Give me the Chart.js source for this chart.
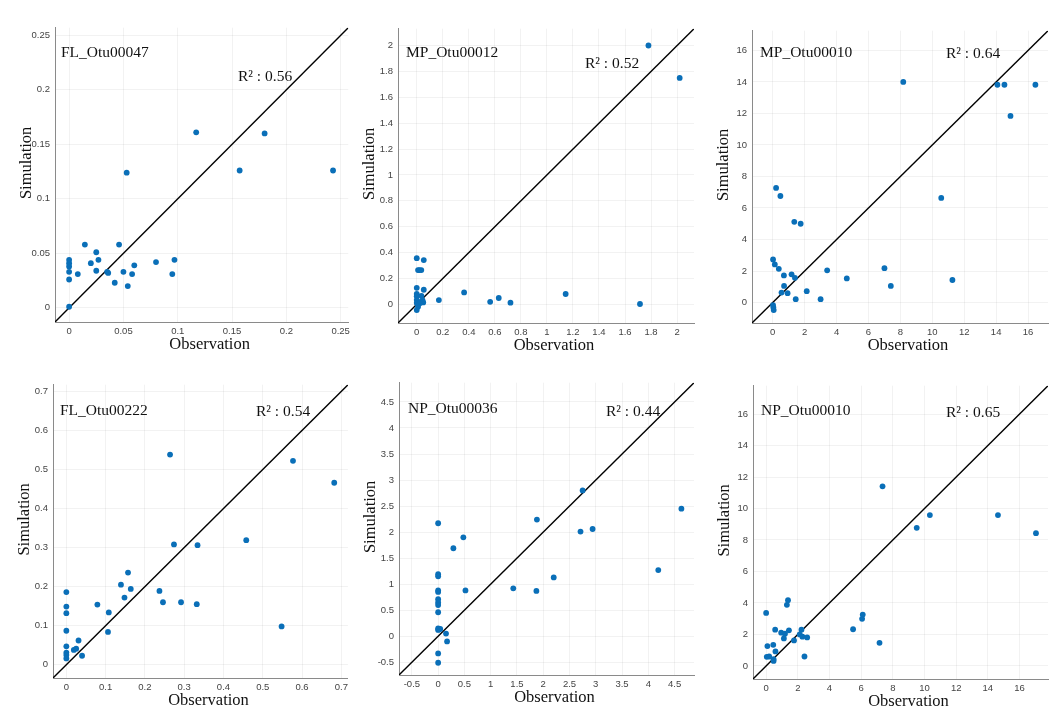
<!DOCTYPE html>
<html>
<head>
<meta charset="utf-8">
<script src="https://cdn.jsdelivr.net/npm/chart.js@4.4.1/dist/chart.umd.min.js"></script>
<style>
  html, body { margin: 0; padding: 0; background: #ffffff; }
  body { width: 1053px; height: 720px; position: relative; overflow: hidden; }
  canvas { position: absolute; }
</style>
</head>
<body>
<canvas id="c1"></canvas>
<canvas id="c2"></canvas>
<canvas id="c3"></canvas>
<canvas id="c4"></canvas>
<canvas id="c5"></canvas>
<canvas id="c6"></canvas>
<script>
// ---------- DATA ----------
const p1Name = "FL_Otu00047", p1R2 = "0.56";
const p1Obs = [0,0,0,0,0,0,0.008,0.0145,0.020,0.025,0.025,0.027,0.035,0.036,0.042,0.046,0.050,0.053,0.054,0.058,0.060,0.080,0.095,0.097,0.117,0.157,0.180,0.243];
const p1Sim = [0.001,0.026,0.033,0.038,0.041,0.044,0.031,0.058,0.041,0.051,0.034,0.044,0.033,0.032,0.023,0.058,0.033,0.124,0.020,0.031,0.039,0.042,0.031,0.044,0.161,0.126,0.160,0.126];
const p1Range = [-0.013, 0.257];
const p1Ticks = [0, 0.05, 0.1, 0.15, 0.2, 0.25];

const p2Name = "MP_Otu00012", p2R2 = "0.52";
const p2Obs = [1.78,2.02,0,0.054,0.01,0.02,0.035,0,0.054,0,0,0,0.036,0.044,0.023,0.01,0,0,0.03,0.05,0.17,0.364,0.564,0.63,0.72,1.144,1.715];
const p2Sim = [2.0,1.75,0.357,0.342,0.265,0.265,0.265,0.128,0.113,0.08,0.062,0.033,0.066,0.033,0.008,-0.018,-0.044,0.01,0.02,0.015,0.033,0.092,0.02,0.049,0.013,0.08,0.003];
const p2Range = [-0.144, 2.13];
const p2Ticks = [0, 0.2, 0.4, 0.6, 0.8, 1, 1.2, 1.4, 1.6, 1.8, 2];

const p3Name = "MP_Otu00010", p3R2 = "0.64";
const p3Obs = [8.18,14.08,14.52,16.46,14.9,10.56,0.21,0.48,1.35,1.75,0.02,0.13,0.38,0.70,1.18,1.39,0.71,0.55,0.93,1.44,2.13,3.0,3.41,4.64,7.0,7.4,11.26,0.02,0.04,0.06];
const p3Sim = [14.0,13.82,13.82,13.82,11.84,6.64,7.27,6.76,5.12,5.0,2.73,2.42,2.14,1.72,1.79,1.57,1.05,0.63,0.59,0.21,0.72,0.21,2.04,1.53,2.18,1.05,1.43,-0.16,-0.31,-0.48];
const p3Range = [-1.3, 17.25];
const p3Ticks = [0, 2, 4, 6, 8, 10, 12, 14, 16];

const p4Name = "FL_Otu00222", p4R2 = "0.54";
const p4Obs = [0.264,0.577,0.682,0.458,0.274,0.334,0.157,0.139,0.164,0.148,0.237,0.246,0.292,0.332,0.079,0.108,0.106,0.548,0,0,0,0,0,0,0,0,0.031,0.019,0.025,0.040];
const p4Sim = [0.538,0.522,0.466,0.319,0.308,0.306,0.236,0.205,0.194,0.172,0.189,0.160,0.160,0.155,0.154,0.134,0.084,0.098,0.186,0.149,0.132,0.087,0.047,0.031,0.025,0.016,0.062,0.038,0.041,0.023];
const p4Range = [-0.034, 0.717];
const p4Ticks = [0, 0.1, 0.2, 0.3, 0.4, 0.5, 0.6, 0.7];

const p5Name = "NP_Otu00036", p5R2 = "0.44";
const p5Obs = [2.75,4.63,1.88,2.71,2.94,0,0.48,0.29,4.19,2.2,1.43,1.87,0.52,0,0,0,0,0,0,0,0,0,0,0.04,0.01,0.15,0.17,0,0];
const p5Sim = [2.80,2.45,2.24,2.01,2.06,2.17,1.90,1.69,1.27,1.13,0.92,0.87,0.88,1.19,1.15,0.88,0.85,0.71,0.65,0.60,0.46,0.15,0.12,0.14,0.13,0.05,-0.10,-0.33,-0.51];
const p5Range = [-0.745, 4.87];
const p5Ticks = [-0.5, 0, 0.5, 1, 1.5, 2, 2.5, 3, 3.5, 4, 4.5];

const p6Name = "NP_Otu00010", p6R2 = "0.65";
const p6Obs = [7.35,10.34,9.51,14.64,17.04,6.10,6.06,5.49,7.16,1.38,1.31,0,0.57,1.44,0.95,1.19,1.12,1.76,2.23,2.12,2.29,2.59,2.42,0.08,0.45,0.59,0.04,0.19,0.47,0.47];
const p6Sim = [11.41,9.58,8.77,9.58,8.43,3.26,2.99,2.33,1.47,4.18,3.88,3.37,2.30,2.26,2.11,2.05,1.75,1.62,2.30,2.0,1.86,1.81,0.60,1.26,1.34,0.92,0.58,0.60,0.43,0.32];
const p6Range = [-0.83, 17.8];
const p6Ticks = [0, 2, 4, 6, 8, 10, 12, 14, 16];

const xTitle = "Observation";
const yTitle = "Simulation";

// ---------- LAYOUT (plot-area boxes in page pixels) ----------
const panels = [
  { id: "c1", name: p1Name, r2: p1R2, obs: p1Obs, sim: p1Sim, range: p1Range, ticks: p1Ticks, box: [55, 27, 350, 322], nameOff: [6, 25], r2Off: [183, 49] },
  { id: "c2", name: p2Name, r2: p2R2, obs: p2Obs, sim: p2Sim, range: p2Range, ticks: p2Ticks, box: [398, 28, 694, 323], nameOff: [8, 24], r2Off: [187, 35] },
  { id: "c3", name: p3Name, r2: p3R2, obs: p3Obs, sim: p3Sim, range: p3Range, ticks: p3Ticks, box: [752, 30, 1048, 323], nameOff: [8, 22], r2Off: [194, 23] },
  { id: "c4", name: p4Name, r2: p4R2, obs: p4Obs, sim: p4Sim, range: p4Range, ticks: p4Ticks, box: [53, 384, 348, 678], nameOff: [7, 26], r2Off: [203, 27] },
  { id: "c5", name: p5Name, r2: p5R2, obs: p5Obs, sim: p5Sim, range: p5Range, ticks: p5Ticks, box: [399, 382, 694, 675], nameOff: [9, 26], r2Off: [207, 29] },
  { id: "c6", name: p6Name, r2: p6R2, obs: p6Obs, sim: p6Sim, range: p6Range, ticks: p6Ticks, box: [753, 385, 1048, 679], nameOff: [8, 25], r2Off: [193, 27] }
];

const YAXIS_W = 50, XAXIS_H = 40, PAD_T = 10, PAD_R = 4;
const SERIF = "'Liberation Serif', 'Times New Roman', serif";

const textPlugin = {
  id: 'panelText',
  afterDraw(chart, args, opts) {
    const ctx = chart.ctx;
    const a = chart.chartArea;
    ctx.save();
    ctx.fillStyle = '#111111';
    ctx.textBaseline = 'middle';
    ctx.textAlign = 'left';
    ctx.font = "15.5px " + SERIF;
    ctx.fillText(opts.name, a.left + opts.nameOff[0], a.top + opts.nameOff[1]);
    ctx.fillText("R\u00B2 : " + opts.r2, a.left + opts.r2Off[0], a.top + opts.r2Off[1]);
    // axis titles
    ctx.font = "16.5px " + SERIF;
    ctx.textAlign = 'center';
    ctx.fillText(xTitle, (a.left + a.right) / 2 + 8, a.bottom + 23);
    ctx.translate(a.left - 28, (a.top + a.bottom) / 2 - 12);
    ctx.rotate(-Math.PI / 2);
    ctx.fillText(yTitle, 0, 0);
    ctx.restore();
  }
};

function fmt(v) { return String(+v.toFixed(4)); }

function axis(range, ticks, isX) {
  return {
    type: 'linear',
    position: isX ? 'bottom' : 'left',
    min: range[0],
    max: range[1],
    afterBuildTicks: (s) => { s.ticks = ticks.map(v => ({ value: v })); },
    afterFit: (s) => { if (isX) s.height = XAXIS_H; else s.width = YAXIS_W; },
    grid: { color: 'rgba(0,0,0,0.05)', lineWidth: 1, drawTicks: false },
    border: { color: '#8a8a8a', width: 1 },
    ticks: {
      color: '#444444',
      font: { family: "'Liberation Sans', Arial, sans-serif", size: 9.5 },
      padding: isX ? 4 : 5,
      callback: (v) => fmt(v),
      maxRotation: 0,
      autoSkip: false
    },
    title: { display: false }
  };
}

panels.forEach(p => {
  const [L, T, R, B] = p.box;
  const cv = document.getElementById(p.id);
  const w = R - L + YAXIS_W + PAD_R;
  const h = B - T + PAD_T + XAXIS_H;
  cv.width = w; cv.height = h;
  cv.style.left = (L - YAXIS_W) + 'px';
  cv.style.top = (T - PAD_T) + 'px';
  cv.style.width = w + 'px';
  cv.style.height = h + 'px';

  const pts = p.obs.map((x, i) => ({ x: x, y: p.sim[i] }));
  new Chart(cv, {
    type: 'scatter',
    data: {
      datasets: [
        {
          label: 'points',
          data: pts,
          backgroundColor: '#0a6fb8',
          borderWidth: 0,
          pointRadius: 2.9,
          pointHoverRadius: 2.9,
          order: 1
        },
        {
          label: '1:1',
          type: 'line',
          data: [{ x: p.range[0], y: p.range[0] }, { x: p.range[1], y: p.range[1] }],
          borderColor: '#000000',
          borderWidth: 1.4,
          pointRadius: 0,
          fill: false,
          order: 2
        }
      ]
    },
    options: {
      responsive: false,
      animation: false,
      devicePixelRatio: 1,
      layout: { padding: { top: PAD_T, right: PAD_R, left: 0, bottom: 0 } },
      scales: {
        x: axis(p.range, p.ticks, true),
        y: axis(p.range, p.ticks, false)
      },
      plugins: {
        legend: { display: false },
        tooltip: { enabled: false },
        panelText: { name: p.name, r2: p.r2, nameOff: p.nameOff, r2Off: p.r2Off }
      }
    },
    plugins: [textPlugin]
  });
});
</script>
</body>
</html>
